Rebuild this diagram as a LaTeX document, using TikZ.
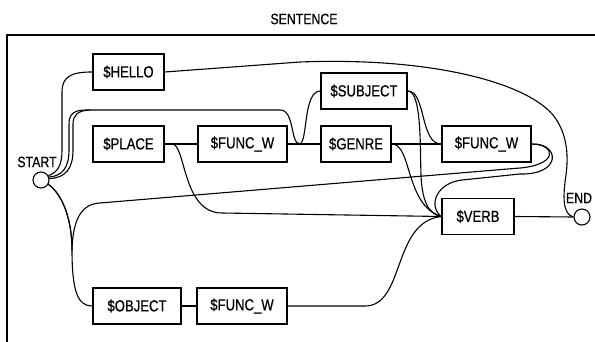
\documentclass[tikz,border=0pt]{standalone}
\usepackage{fontspec}
\setmainfont{Liberation Sans}[FakeStretch=0.82,FakeBold=0.6]
\tikzset{
  box/.style={draw, line width=1.6pt, minimum height=36pt, inner sep=0pt, font=\fontsize{16}{18}\selectfont},
  conn/.style={line width=1.1pt},
  term/.style={draw, circle, minimum size=16pt, inner sep=0pt, line width=1.1pt},
  lbl/.style={font=\fontsize{15}{17}\selectfont, inner sep=0pt},
  frame/.style={line width=1.3pt}
}
\begin{document}
\begin{tikzpicture}[x=1pt,y=-1pt]
\useasboundingbox (0,0) rectangle (595,342);
% frame
\draw[frame] (7,342) -- (7,35) -- (595,35);
\node[lbl] (title) at (304,19) {SENTENCE};
% boxes
\node[box, minimum width=71pt] (hello) at (128.5,72) {\$HELLO};
\node[box, minimum width=71pt] (place) at (128.5,144) {\$PLACE};
\node[box, minimum width=89pt] (fw1) at (242.5,144) {\$FUNC\_W};
\node[box, minimum width=86pt] (subj) at (364,91) {\$SUBJECT};
\node[box, minimum width=70pt] (genre) at (356,144) {\$GENRE};
\node[box, minimum width=89pt] (fw2) at (486.5,144) {\$FUNC\_W};
\node[box, minimum width=72pt] (verb) at (478,216.5) {\$VERB};
\node[box, minimum width=88pt] (obj) at (137,306) {\$OBJECT};
\node[box, minimum width=90pt] (fw3) at (242,306) {\$FUNC\_W};
% terminals
\node[term] (startc) at (41,180) {};
\node[term] (endc) at (582,217) {};
\node[lbl] (startl) at (37,162) {START};
\node[lbl] (endl) at (579,198) {END};
\coordinate (j) at (300,144);
% connectors
\draw[conn] (startc.30) .. controls (58,172) and (62,165) .. (62,150) -- (62,92) .. controls (62,76) and (72,72) .. (hello.west);
\draw[conn] (startc.20) .. controls (62,176) and (69,168) .. (69,150) -- (69,124) .. controls (69,114) and (74,110) .. (86,110) -- (280,110) .. controls (295,110) and (290,144) .. (j);
\draw[conn] (startc.10) .. controls (66,178) and (73,168) .. (73,150) -- (73,124) .. controls (73,115) and (78,110.5) .. (90,110);
\draw[conn] (j) .. controls (308,140) and (303,92) .. (subj.west);
\draw[conn] (fw1.east) -- (genre.west);
\draw[conn] (subj.east) .. controls (426,91) and (420,144) .. (fw2.west);
\draw[conn] (subj.east) .. controls (422,91) and (420,150) .. (421,175) .. controls (422,200) and (428,214) .. (verb.west);
\draw[conn] (genre.east) -- (fw2.west);
\draw[conn] (genre.east) .. controls (412,144) and (405,205) .. (verb.west);
\draw[conn] (place.east) -- (fw1.west);
\draw[conn] (place.east) -- (172,144) .. controls (186,144) and (182,213) .. (222,213) -- (verb.west);
\draw[conn] (obj.east) -- (fw3.west);
\draw[conn] (fw3.east) -- (365,306) .. controls (405,306) and (392,222) .. (verb.west);
\draw[conn] (startc.-30) .. controls (64,196) and (72,222) .. (72,250) .. controls (72,292) and (78,306) .. (obj.west);
\draw[conn] (startc.-30) .. controls (64,196) and (72,222) .. (72,250) .. controls (73,218) and (82,204) .. (100,203) -- (515,168.4) .. controls (560,166) and (556,144) .. (fw2.east);
\draw[conn] (fw2.east) .. controls (560,143) and (562,175) .. (520,174) -- (462,180) .. controls (436,183) and (428,206) .. (verb.west);
\draw[conn] (hello.east) -- (300,62) .. controls (430,57) and (525,82) .. (553,115) .. controls (569,135) and (568,160) .. (566,175) .. controls (563,195) and (562,214) .. (endc.west);
\draw[conn] (verb.east) -- (endc.west);
\end{tikzpicture}
\end{document}
